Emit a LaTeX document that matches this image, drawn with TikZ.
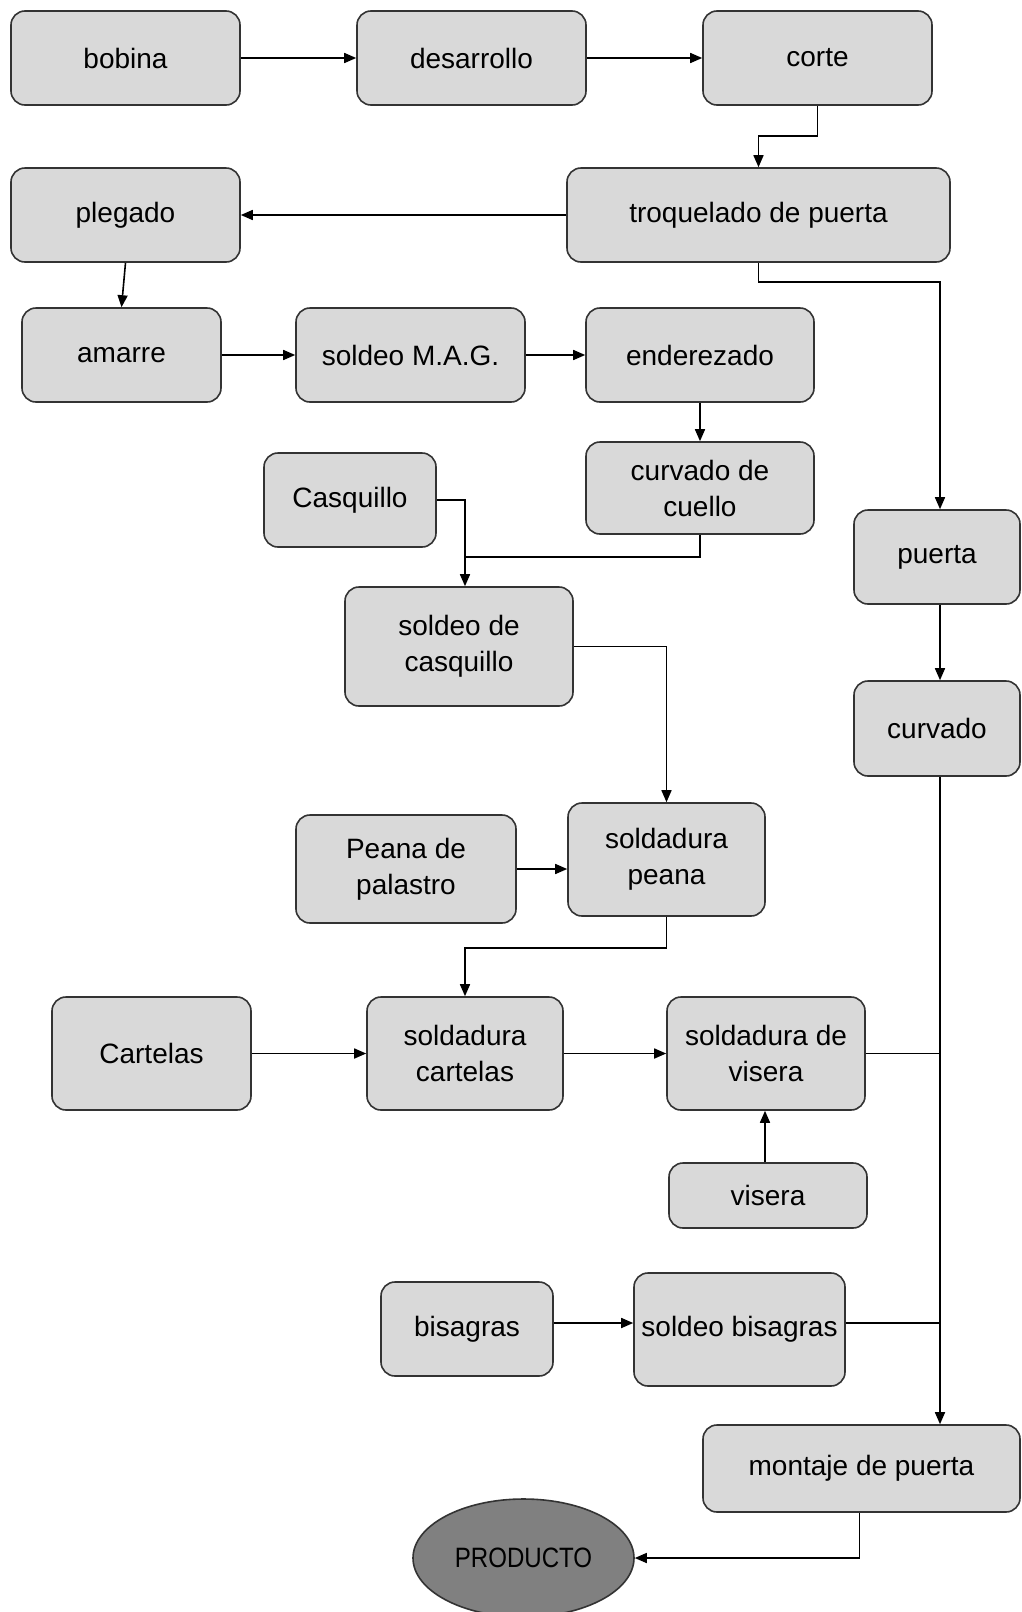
\documentclass[tikz,border=0pt]{standalone}
\usepackage{fontspec}
\setmainfont{Liberation Sans}
\newfontfamily\condfont[FakeStretch=0.86]{Liberation Sans}
\usetikzlibrary{arrows.meta,shapes.geometric}
\definecolor{boxc}{HTML}{D9D9D9}
\definecolor{bordc}{HTML}{333333}
\definecolor{prodc}{HTML}{808080}
\begin{document}
\begin{tikzpicture}[x=1pt,y=-1pt,
  box/.style={draw=bordc, fill=boxc, rounded corners=14pt, line width=1.6pt,
    inner sep=2pt, align=center, text=black,
    font=\fontsize{28pt}{36pt}\selectfont},
  arr/.style={line width=1.6pt, -{Triangle[length=12pt,width=10pt]}},
  ln/.style={line width=1.6pt}]
\useasboundingbox (0,0) rectangle (1021,1612);
\fill[white] (0,0) rectangle (1021,1612);

\node[box, minimum width=229pt, minimum height=94pt] (bobina) at (125.5,58) {bobina};
\node[box, minimum width=229pt, minimum height=94pt] (desar) at (471.5,58) {desarrollo};
\node[box, minimum width=229pt, minimum height=94pt] (corte) at (817.5,58) {corte};
\node[box, minimum width=383pt, minimum height=94pt] (troq) at (758.5,215) {troquelado de puerta};
\node[box, minimum width=229pt, minimum height=94pt] (pleg) at (125.5,215) {plegado};
\node[box, minimum width=199pt, minimum height=94pt] (amarre) at (121.5,355) {amarre};
\node[box, minimum width=229pt, minimum height=94pt] (mag) at (410.5,355) {soldeo M.A.G.};
\node[box, minimum width=228pt, minimum height=94pt] (ender) at (700,355) {enderezado};
\node[box, minimum width=228pt, minimum height=92pt] (ccuello) at (700,488) {curvado de\\cuello};
\node[box, minimum width=172pt, minimum height=94pt] (casq) at (350,500) {Casquillo};
\node[box, minimum width=228pt, minimum height=119pt] (scasq) at (459,646.5) {soldeo de\\casquillo};
\node[box, minimum width=166pt, minimum height=94pt] (puerta) at (937,557) {puerta};
\node[box, minimum width=166pt, minimum height=95pt] (curv) at (937,728.5) {curvado};
\node[box, minimum width=197pt, minimum height=113pt] (speana) at (666.5,859.5) {soldadura\\peana};
\node[box, minimum width=220pt, minimum height=108pt] (peana) at (406,869) {Peana de\\palastro};
\node[box, minimum width=199pt, minimum height=113pt] (cart) at (151.5,1053.5) {Cartelas};
\node[box, minimum width=196pt, minimum height=113pt] (scart) at (465,1053.5) {soldadura\\cartelas};
\node[box, minimum width=198pt, minimum height=113pt] (svis) at (766,1053.5) {soldadura de\\visera};
\node[box, minimum width=198pt, minimum height=65pt] (visera) at (768,1195.5) {visera};
\node[box, minimum width=172pt, minimum height=94pt] (bis) at (467,1329) {bisagras};
\node[box, minimum width=211pt, minimum height=113pt] (sbis) at (739.5,1329.5) {soldeo bisagras};
\node[box, minimum width=317pt, minimum height=87pt] (mont) at (861.5,1468.5) {montaje de puerta};
\node[ellipse, draw=bordc, fill=prodc, line width=1.6pt, minimum width=221pt, minimum height=118pt,
  inner sep=0pt, font=\condfont\fontsize{28pt}{36pt}\selectfont] (prod) at (523.5,1558) {PRODUCTO};

\coordinate (spine) at (940,0);

\draw[arr] (bobina.east) -- (desar.west);
\draw[arr] (desar.east) -- (corte.west);
\draw[arr] (corte.south) -- (corte.south |- 0,136) -| (troq.north);
\draw[arr] (troq.west) -- (pleg.east);
\draw[arr] (pleg.south) -- (amarre.north);
\draw[arr] (amarre.east) -- (mag.west);
\draw[arr] (mag.east) -- (ender.west);
\draw[arr] (ender.south) -- (ccuello.north);
\draw[arr] (troq.south) -- (troq.south |- 0,282) -| (puerta.north -| spine);
\draw[arr] (puerta.south -| spine) -- (curv.north -| spine);
\draw[arr] (curv.south -| spine) -- (mont.north -| spine);
\draw[ln] (svis.east) -- (svis.east -| spine);
\draw[ln] (sbis.east |- 0,1323) -- (spine |- 0,1323);
\draw[arr] (casq.east) -| ([xshift=6pt]scasq.north);
\draw[ln] (ccuello.south) |- ([xshift=6pt]scasq.north |- 0,557);
\draw[arr] (scasq.east) -| (speana.north);
\draw[arr] (peana.east) -- (peana.east -| speana.west);
\draw[arr] (speana.south) -- (speana.south |- 0,948) -| (scart.north);
\draw[arr] (cart.east) -- (scart.west);
\draw[arr] (scart.east) -- (svis.west);
\draw[arr] ([xshift=-3pt]visera.north) -- ([xshift=-3pt]visera.north |- svis.south);
\draw[arr] (bis.east |- 0,1323) -- (sbis.west |- 0,1323);
\draw[arr] ([xshift=-2pt]mont.south) |- (prod.east);
\end{tikzpicture}
\end{document}
